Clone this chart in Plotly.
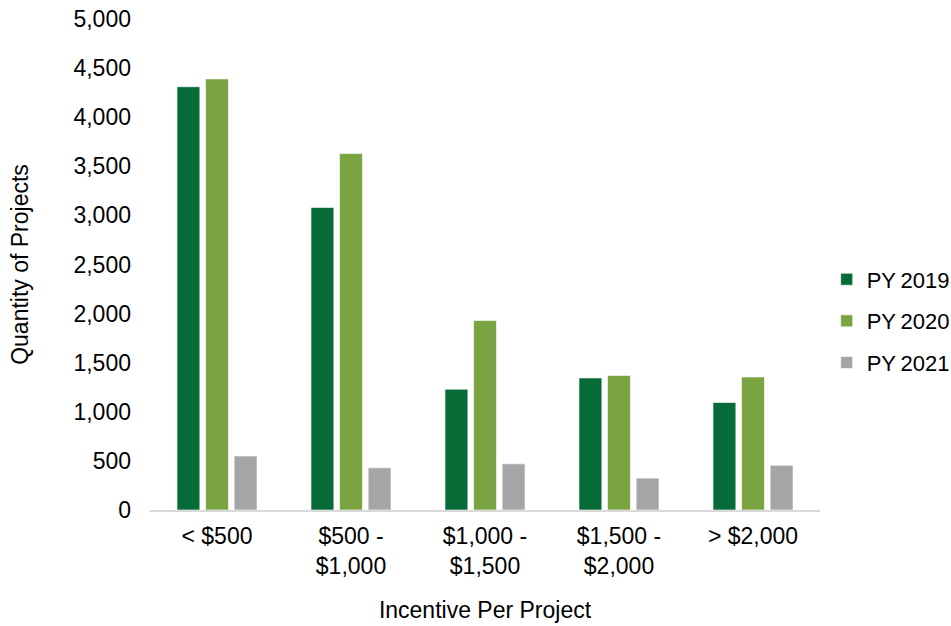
import plotly.graph_objects as go

# Incentive bands and project counts per program year
categories = ["< $500", "$500 -<br>$1,000", "$1,000 -<br>$1,500", "$1,500 -<br>$2,000", "> $2,000"]
py2019 = [4310, 3080, 1230, 1345, 1095]
py2020 = [4390, 3630, 1930, 1370, 1355]
py2021 = [550, 430, 470, 325, 455]

series = [
    ("PY\u20092019", py2019, "#076B38"),
    ("PY\u20092020", py2020, "#7AA342"),
    ("PY\u20092021", py2021, "#A5A5A5"),
]

FONT = "Liberation Sans, Arial, sans-serif"

fig = go.Figure()
for name, vals, color in series:
    fig.add_trace(go.Bar(
        x=categories, y=vals, name=name, legendgroup=name,
        marker=dict(color=color, line=dict(color="rgba(255,255,255,0.6)", width=1)),
    ))

fig.update_layout(
    width=951, height=626,
    margin=dict(l=150, r=131, t=19, b=116, autoexpand=False),
    paper_bgcolor="white", plot_bgcolor="white",
    font=dict(family=FONT, size=23, color="#000000"),
    barmode="group", bargap=0.36, bargroupgap=0.2,
    legend=dict(x=1.01, xanchor="left", y=0.385, yanchor="middle",
                font=dict(size=22), traceorder="grouped", tracegroupgap=10,
                itemwidth=30),
    showlegend=True,
)
fig.update_xaxes(
    showgrid=False, showline=True, linecolor="#D9D9D9", linewidth=2,
    ticks="", ticklabelstandoff=4,
    title=dict(text="Incentive Per Project", font=dict(size=23), standoff=24),
)
fig.update_yaxes(
    range=[0, 5000], dtick=500, tickformat=",d",
    showgrid=False, showline=False, zeroline=False,
    ticks="", ticklabelstandoff=18,
    title=dict(text="Quantity of Projects", font=dict(size=23), standoff=38),
)

fig.write_html("out.html")
